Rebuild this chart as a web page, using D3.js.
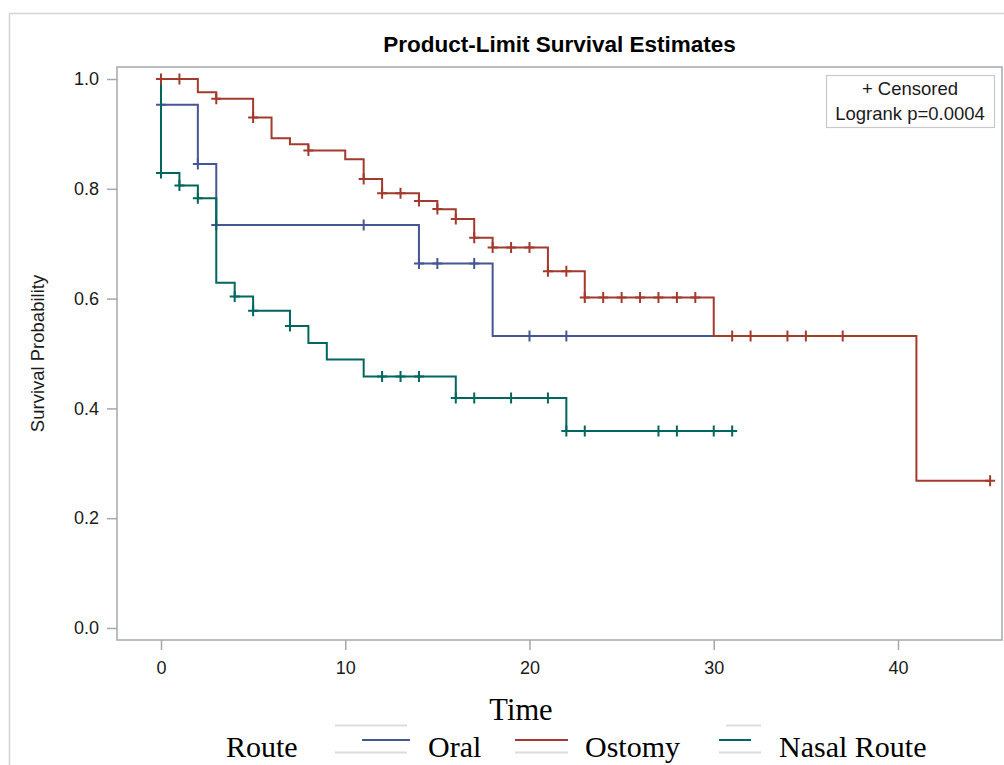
<!DOCTYPE html>
<html>
<head>
<meta charset="utf-8">
<script src="https://cdn.jsdelivr.net/npm/d3@7"></script>
<style>
  body { margin: 0; background: #fff; }
  svg { display: block; }
</style>
</head>
<body>
<svg id="chart" width="1004" height="765"></svg>
<script>
// Groups and their colours
const groups = ["Oral", "Ostomy", "Nasal Route"];
const groupColors = ["#445694", "#A23A2E", "#01665E"];

// Product-limit steps: time of each change and the estimate after it
const oralTimes = [0, 0, 2, 3, 14, 18];
const oralSurv = [1.0, 0.953, 0.845, 0.734, 0.664, 0.532];
const oralEnd = 30;
const oralCensored = [0, 2, 3, 11, 14, 15, 17, 20, 22];

const ostomyTimes = [0, 2, 3, 5, 6, 7, 8, 10, 11, 12, 14, 15, 16, 17, 18, 21, 23, 30, 41];
const ostomySurv = [1.0, 0.976, 0.964, 0.930, 0.892, 0.881, 0.870, 0.854, 0.818, 0.792,
                    0.778, 0.763, 0.745, 0.711, 0.693, 0.650, 0.602, 0.532, 0.268];
const ostomyEnd = 45;
const ostomyCensored = [0, 1, 3, 5, 8, 11, 12, 13, 14, 15, 16, 17, 18, 19, 20, 21, 22, 23,
                        24, 25, 26, 27, 28, 29, 31, 32, 34, 35, 37, 45];

const nasalTimes = [0, 0, 1, 2, 3, 4, 5, 7, 8, 9, 11, 16, 22];
const nasalSurv = [1.0, 0.829, 0.806, 0.783, 0.629, 0.604, 0.578, 0.550, 0.519, 0.489,
                   0.458, 0.419, 0.359];
const nasalEnd = 31;
const nasalCensored = [0, 1, 2, 4, 5, 7, 12, 13, 14, 16, 17, 19, 21, 22, 23, 27, 28, 30, 31];

// Axis ticks
const xTicks = [0, 10, 20, 30, 40];
const yTicks = [0, 0.2, 0.4, 0.6, 0.8, 1.0];

const titleText = "Product-Limit Survival Estimates";
const yLabelText = "Survival Probability";
const insetLines = ["+ Censored", "Logrank p=0.0004"];
const xLabelText = "Time";
const legendTitle = "Route";

const curves = [
  { name: groups[0], color: groupColors[0], times: oralTimes, surv: oralSurv, end: oralEnd, cens: oralCensored },
  { name: groups[1], color: groupColors[1], times: ostomyTimes, surv: ostomySurv, end: ostomyEnd, cens: ostomyCensored },
  { name: groups[2], color: groupColors[2], times: nasalTimes, surv: nasalSurv, end: nasalEnd, cens: nasalCensored }
];

const svg = d3.select("#chart");
const frame = { left: 117, top: 67, right: 1002, bottom: 640 };
const axisColor = "#a4a9ae";
const sansFont = "'Liberation Sans', Arial, sans-serif";
const serifFont = "'Liberation Serif', 'Times New Roman', serif";

// Outer border of the graph area
svg.append("rect")
  .attr("x", 9.5).attr("y", 13.5)
  .attr("width", 1100).attr("height", 900)
  .attr("fill", "none").attr("stroke", "#d4d4d4").attr("stroke-width", 1.5);

const x = d3.scaleLinear().domain([-2.388, 45.645]).range([frame.left, frame.right]);
const y = d3.scaleLinear().domain([-0.0219, 1.0219]).range([frame.bottom, frame.top]);

// Title
svg.append("text")
  .attr("x", (frame.left + frame.right) / 2).attr("y", 52)
  .attr("text-anchor", "middle")
  .attr("font-family", sansFont).attr("font-weight", "bold").attr("font-size", 22.5)
  .attr("fill", "#000")
  .text(titleText);

// Axes
const yAxis = svg.append("g")
  .attr("transform", `translate(${frame.left},0)`)
  .call(d3.axisLeft(y).tickValues(yTicks).tickFormat(d3.format(".1f")).tickSize(10).tickPadding(8));
const xAxis = svg.append("g")
  .attr("transform", `translate(0,${frame.bottom})`)
  .call(d3.axisBottom(x).tickValues(xTicks).tickFormat(d3.format("d")).tickSize(10).tickPadding(11));

[xAxis, yAxis].forEach(g => {
  g.select(".domain").remove();
  g.selectAll(".tick line").attr("stroke", axisColor).attr("stroke-width", 1.5);
  g.selectAll(".tick text")
    .attr("font-family", sansFont).attr("font-size", 18).attr("fill", "#1a1a1a");
});

// Plot frame
svg.append("rect")
  .attr("x", frame.left).attr("y", frame.top)
  .attr("width", frame.right - frame.left).attr("height", frame.bottom - frame.top)
  .attr("fill", "none").attr("stroke", axisColor).attr("stroke-width", 1.5);

// Y axis label
svg.append("text")
  .attr("transform", `translate(44,${(frame.top + frame.bottom) / 2}) rotate(-90)`)
  .attr("text-anchor", "middle")
  .attr("font-family", sansFont).attr("font-size", 18.5).attr("fill", "#1a1a1a")
  .text(yLabelText);

// Survival curves (step after each time point)
const line = d3.line()
  .x(d => x(d[0])).y(d => y(d[1]))
  .curve(d3.curveStepAfter);

function stepValue(c, t) {
  let v = c.surv[0];
  for (let i = 0; i < c.times.length; i++) if (c.times[i] <= t) v = c.surv[i];
  return v;
}

const drawOrder = [0, 2, 1];
drawOrder.forEach(i => {
  const c = curves[i];
  const pts = c.times.map((t, k) => [t, c.surv[k]]);
  pts.push([c.end, c.surv[c.surv.length - 1]]);
  const g = svg.append("g");
  g.append("path")
    .attr("d", line(pts))
    .attr("fill", "none").attr("stroke", c.color).attr("stroke-width", 2);
  // censoring marks
  g.selectAll("path.cens")
    .data(c.cens)
    .join("path")
    .attr("class", "cens")
    .attr("d", t => {
      const cx = x(t), cy = y(stepValue(c, t));
      return `M${cx - 5},${cy}H${cx + 5}M${cx},${cy - 5.5}V${cy + 5.5}`;
    })
    .attr("fill", "none").attr("stroke", c.color).attr("stroke-width", 2);
});

// Inset legend box
svg.append("rect")
  .attr("x", 826.5).attr("y", 75.5).attr("width", 168).attr("height", 52)
  .attr("fill", "#fff").attr("stroke", "#c8c8c8").attr("stroke-width", 1.2);
insetLines.forEach((t, i) => {
  svg.append("text")
    .attr("x", 910).attr("y", 95 + i * 25)
    .attr("text-anchor", "middle")
    .attr("font-family", sansFont).attr("font-size", 18.5).attr("fill", "#1a1a1a")
    .text(t);
});

// X axis label
svg.append("text")
  .attr("x", 521).attr("y", 720)
  .attr("text-anchor", "middle")
  .attr("font-family", serifFont).attr("font-size", 30.5).attr("fill", "#000")
  .text(xLabelText);

// Group legend
svg.append("text")
  .attr("x", 226).attr("y", 757)
  .attr("font-family", serifFont).attr("font-size", 30).attr("fill", "#000")
  .text(legendTitle);

const legendItems = [
  { lineX: [362, 410], textX: 428, grayTop: [335, 407], grayBottom: [335, 407] },
  { lineX: [515, 568], textX: 585, grayTop: null, grayBottom: [515, 568] },
  { lineX: [719, 751], textX: 779, grayTop: [726, 761], grayBottom: [719, 761] }
];
legendItems.forEach((it, i) => {
  const g = svg.append("g");
  if (it.grayTop) g.append("line")
    .attr("x1", it.grayTop[0]).attr("x2", it.grayTop[1]).attr("y1", 725.5).attr("y2", 725.5)
    .attr("stroke", "#dcdcdc").attr("stroke-width", 2);
  g.append("line")
    .attr("x1", it.grayBottom[0]).attr("x2", it.grayBottom[1]).attr("y1", 752.5).attr("y2", 752.5)
    .attr("stroke", "#dcdcdc").attr("stroke-width", 2);
  g.append("line")
    .attr("x1", it.lineX[0]).attr("x2", it.lineX[1]).attr("y1", 740).attr("y2", 740)
    .attr("stroke", groupColors[i]).attr("stroke-width", 2);
  g.append("text")
    .attr("x", it.textX).attr("y", 757)
    .attr("font-family", serifFont).attr("font-size", 30).attr("fill", "#000")
    .text(groups[i]);
});
</script>
</body>
</html>
